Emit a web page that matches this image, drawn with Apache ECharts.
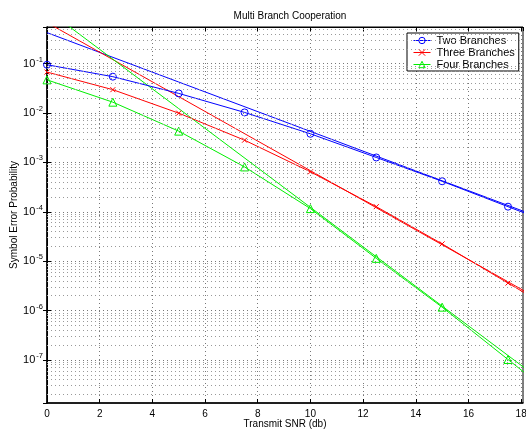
<!DOCTYPE html>
<html>
	<head>
		<meta charset="UTF-8">
		<title>Multi Branch Cooperation</title>
		<script type="text/javascript" src="https://cdn.jsdelivr.net/npm/echarts@6/dist/echarts.min.js"></script>
	</head>
	<body style="margin:0;background:#fff;">
		<div id='chart' style="width:526px;height:431px;"></div>
	<script>
		// SNR (dB) where the simulated points sit, and for the straight reference lines
		var snrPoints = [0, 2.5, 5, 7.5, 10, 12.5, 15, 17.5, 20];
		var snrRef = [0, 5, 10, 15, 20];

		// simulated curves (with markers)
		var twoSim = [0.095, 0.0545, 0.025, 0.0103, 3.8e-3, 1.26e-3, 4.15e-4, 1.27e-4, 3.9e-5];
		var threeSim = [0.0676, 0.0297, 9.95e-3, 2.82e-3, 6.45e-4, 1.27e-4, 2.24e-5, 3.6e-6, 5.9e-7];
		var fourSim = [0.047, 0.0166, 4.3e-3, 8.1e-4, 1.16e-4, 1.14e-5, 1.17e-6, 1.02e-7, 8.9e-9];

		// straight reference lines (no markers)
		var twoRef = [0.425, 0.0425, 4.25e-3, 4.25e-4, 4.25e-5];
		var threeRef = [0.68, 0.0215, 6.8e-4, 2.15e-5, 6.8e-7];
		var fourRef = [1.23, 0.0123, 1.23e-4, 1.23e-6, 1.23e-8];

		var names = ['Two Branches', 'Three Branches', 'Four Branches'];
		var colors = ['#0000ff', '#ff0000', '#00ee00'];

		var xMin = 0, xMax = 18.07;
		var yMin = 1.34e-8, yMax = 0.553;

		function pairs(xs, ys){
			var out = [];
			for (var i = 0; i < xs.length; i++) out.push([xs[i], ys[i]]);
			return out;
		}

		// minor grid lines at 2..9 x 10^k
		var minorLines = [];
		for (var d = -8; d <= 0; d++) {
			for (var k = 2; k <= 9; k++) {
				var v = k * Math.pow(10, d);
				if (v > yMin && v < yMax) minorLines.push({yAxis: v});
			}
		}

		var font = 'Liberation Sans, Arial, Helvetica, sans-serif';
		var crossPath = 'path://M0,0L10,10M10,0L0,10';

		function simSeries(i, data, symbol, size){
			return {
				name: names[i],
				type: 'line',
				data: data,
				symbol: symbol,
				symbolSize: size,
				clip: true,
				lineStyle: {color: colors[i], width: 1},
				itemStyle: {color: symbol == crossPath ? colors[i] : 'rgba(0,0,0,0)', borderColor: colors[i], borderWidth: 1},
				z: 3
			};
		}
		function refSeries(i, data){
			return {
				name: names[i] + ' ref',
				type: 'line',
				data: data,
				symbol: 'none',
				clip: true,
				lineStyle: {color: colors[i], width: 1},
				z: 2
			};
		}

		var chart = echarts.init(document.getElementById('chart'));
		var option = {
			animation: false,
			textStyle: {fontFamily: font},
			title: {
				text: 'Multi Branch Cooperation',
				left: 285,
				textAlign: 'center',
				top: 6,
				textStyle: {fontSize: 10, fontWeight: 'normal', color: '#000', fontFamily: font}
			},
			legend: {
				data: names,
				orient: 'vertical',
				left: 407,
				top: 33,
				width: 112,
				padding: [2, 4, 1, 6],
				itemGap: 1,
				itemWidth: 17,
				itemHeight: 8,
				borderColor: '#000',
				borderWidth: 1,
				backgroundColor: '#fff',
				lineStyle: {width: 1},
				itemStyle: {borderWidth: 1},
				textStyle: {fontSize: 11, lineHeight: 11, color: '#000', fontFamily: font, padding: [0, 0, 0, 1]}
			},
			grid: {
				left: 47, right: 3, top: 27, bottom: 28,
				show: true, borderColor: '#000', borderWidth: 1,
				containLabel: false,
				outerBoundsMode: 'none'
			},
			xAxis: [{
				type: 'value',
				min: xMin, max: xMax, interval: 2,
				name: 'Transmit SNR (db)',
				nameLocation: 'middle',
				nameGap: 16,
				nameMoveOverlap: false,
				nameTextStyle: {fontSize: 10, color: '#000'},
				axisLine: {lineStyle: {color: '#000', width: 1.5}},
				axisTick: {inside: true, length: 4, lineStyle: {color: '#000'}},
				axisLabel: {color: '#000', fontSize: 10, margin: 6, showMaxLabel: false},
				splitLine: {show: true, lineStyle: {color: '#777', type: [1, 3], width: 1}}
			}, {
				type: 'value', position: 'top',
				min: xMin, max: xMax, interval: 2,
				axisLine: {lineStyle: {color: '#000', width: 1}},
				axisTick: {inside: true, length: 4, lineStyle: {color: '#000'}},
				axisLabel: {show: false},
				splitLine: {show: false}
			}],
			yAxis: [{
				type: 'log', logBase: 10,
				min: yMin, max: yMax,
				name: 'Symbol Error Probability',
				nameLocation: 'middle',
				nameGap: 28,
				nameMoveOverlap: false,
				nameRotate: 90,
				nameTextStyle: {fontSize: 10, color: '#000'},
				axisLine: {lineStyle: {color: '#000', width: 1.5}},
				axisTick: {inside: true, length: 4, lineStyle: {color: '#000'}},
				axisLabel: {
					color: '#000', fontSize: 11, margin: 4,
					showMinLabel: false, showMaxLabel: false,
					formatter: function(val){
						var e = Math.round(Math.log10(val));
						return '10{s|' + e + '}';
					},
					rich: {s: {fontSize: 7.5, verticalAlign: 'top', padding: [0, 0, 8, 1], color: '#000'}}
				},
				splitLine: {show: true, lineStyle: {color: '#777', type: [1, 3], width: 1}}
			}, {
				type: 'log', logBase: 10, position: 'right',
				min: yMin, max: yMax,
				axisLine: {lineStyle: {color: '#000', width: 1}},
				axisTick: {inside: true, length: 4, lineStyle: {color: '#000'}},
				axisLabel: {show: false},
				splitLine: {show: false}
			}],
			series: [
				{
					name: 'minor grid',
					type: 'line',
					data: [],
					silent: true,
					markLine: {
						silent: true,
						precision: 12,
						symbol: 'none',
						label: {show: false},
						lineStyle: {color: '#999', type: [1, 3], width: 1},
						data: minorLines
					},
					z: 1
				},
				refSeries(0, pairs(snrRef, twoRef)),
				refSeries(1, pairs(snrRef, threeRef)),
				refSeries(2, pairs(snrRef, fourRef)),
				simSeries(0, pairs(snrPoints, twoSim), 'circle', 7),
				simSeries(1, pairs(snrPoints, threeSim), crossPath, 5),
				simSeries(2, pairs(snrPoints, fourSim), 'triangle', 8)
			]
		};
		chart.setOption(option);
	</script>
	</body>
</html>
